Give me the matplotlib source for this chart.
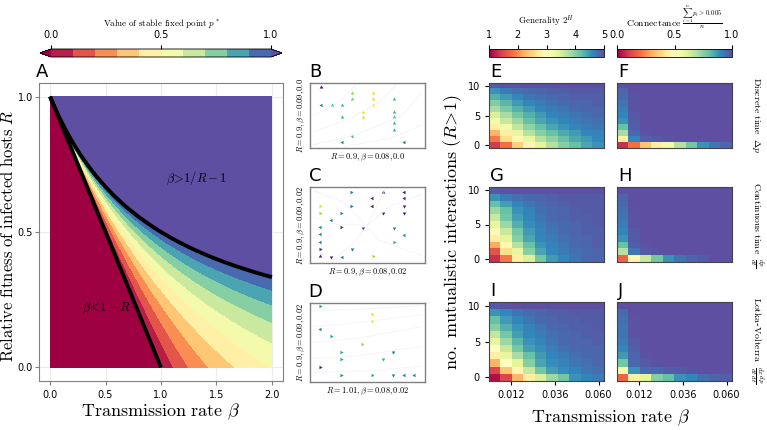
import numpy as np
import matplotlib
matplotlib.use('Agg')
import matplotlib.pyplot as plt

plt.rcParams['mathtext.fontset'] = 'cm'
plt.rcParams['font.family'] = 'DejaVu Sans'

# ---------------- datos ----------------
# Panel A: niveles del punto fijo estable p*
niveles_p = [0.0, 0.1, 0.2, 0.3, 0.4, 0.5, 0.6, 0.7, 0.8, 0.9, 1.0]
beta_lim = [0.0, 2.0]
R_lim = [0.0, 1.0]

# Paneles B-D: flechas (x, y en fraccion del eje, angulo, color viridis)
B_x = [.096, .368, .551, .368, .551, .733, .096, .188, .281, .551, .458, .733, .275, .458, .733, .733, .733, .368, .275, .820]
B_y = [.94, .84, .84, .75, .75, .75, .66, .66, .66, .66, .56, .56, .47, .47, .47, .38, .28, .19, .09, .09]
B_ang = [120, 0, 0, 0, 0, 0, 90, 0, 0, 0, 0, 0, 0, 0, 0, 0, 0, 90, 90, 90]
B_col = [.05, .85, .97, .8, .97, .7, .45, .6, .7, .97, .95, .7, .7, .95, .7, .7, .68, .65, .5, .45]

C_x = [.357, .632, .820, .536, .820, .087, .357, .536, .820, .087, .267, .638, .820, .180, .087, .267, .458, .733,
       .087, .820, .087, .733, .087, .368, .087, .180, .275, .551]
C_y = [.94, .94, .94, .855, .855, .75, .75, .75, .75, .66, .66, .66, .66, .56, .47, .47, .465, .465,
       .38, .37, .28, .27, .19, .18, .09, .08, .08, .09]
C_ang = [-90, 0, 90, 90, 90, -90, -90, 90, 180, -90, -90, 180, 180, 90, 90, -90, 180, 180,
         90, 90, 90, -90, -90, 180, 0, 180, 90, -90]
C_col = [.45, .1, .08, .1, .1, .95, .4, .08, .1, .85, .45, .1, .1, .45, .5, .15, .15, .45,
         .5, .55, .45, .65, .15, .4, .1, .1, .45, .85]

D_x = [.087, .542, .542, .087, .180, .449, .267, .725, .267, .632, .087, .267, .542, .725, .820, .907]
D_y = [.96, .865, .77, .675, .58, .48, .38, .38, .285, .285, .19, .09, .09, .09, .09, .09]
D_ang = [-90, 180, 180, 90, -90, -90, -90, 180, -90, 180, -90, -90, -90, 180, 90, 90]
D_col = [.6, .97, .97, .45, .6, .85, .6, .45, .6, .65, .08, .5, .65, .45, .45, .45]

# lineas de flujo tenues (fraccion del eje)
B_lineas = [[(0.03, 0.05), (0.4, 0.2), (0.8, 0.5), (0.97, 0.85)],
            [(0.03, 0.25), (0.35, 0.45), (0.6, 0.7), (0.75, 0.97)],
            [(0.03, 0.5), (0.25, 0.7), (0.4, 0.97)],
            [(0.3, 0.02), (0.7, 0.15), (0.97, 0.35)]]
C_lineas = [[(0.03, 0.95), (0.3, 0.8), (0.45, 0.55), (0.6, 0.3), (0.97, 0.1)],
            [(0.2, 0.03), (0.4, 0.3), (0.5, 0.5), (0.7, 0.75), (0.97, 0.9)],
            [(0.03, 0.6), (0.25, 0.5), (0.45, 0.5)],
            [(0.65, 0.97), (0.55, 0.65), (0.5, 0.5)]]
D_lineas = [[(0.03, 0.9), (0.4, 0.92), (0.97, 0.97)],
            [(0.03, 0.7), (0.4, 0.75), (0.97, 0.85)],
            [(0.03, 0.5), (0.4, 0.55), (0.97, 0.7)],
            [(0.03, 0.3), (0.4, 0.33), (0.97, 0.45)],
            [(0.03, 0.12), (0.5, 0.14), (0.97, 0.2)]]

# Paneles E-J: filas = no. interacciones mutualistas 0..10, columnas = beta
beta_ticks = [0.012, 0.036, 0.060]
y_ticks = [0, 5, 10]

gen_E = [[1.40, 1.80, 2.48, 2.88, 3.40, 3.72, 4.00, 4.20, 4.40, 4.52],
         [1.88, 2.60, 2.92, 3.32, 3.72, 3.96, 4.20, 4.36, 4.48, 4.60],
         [2.28, 2.80, 3.32, 3.72, 4.00, 4.20, 4.36, 4.48, 4.60, 4.64],
         [2.80, 3.20, 3.64, 3.96, 4.20, 4.40, 4.52, 4.60, 4.68, 4.72],
         [3.20, 3.60, 3.88, 4.20, 4.40, 4.52, 4.60, 4.68, 4.72, 4.76],
         [3.48, 3.80, 4.12, 4.32, 4.48, 4.60, 4.68, 4.72, 4.76, 4.80],
         [3.80, 4.08, 4.32, 4.48, 4.60, 4.68, 4.72, 4.80, 4.84, 4.84],
         [4.04, 4.28, 4.48, 4.60, 4.68, 4.76, 4.80, 4.84, 4.84, 4.88],
         [4.32, 4.48, 4.60, 4.72, 4.76, 4.80, 4.84, 4.88, 4.88, 4.88],
         [4.52, 4.68, 4.76, 4.80, 4.84, 4.88, 4.88, 4.92, 4.92, 4.92],
         [4.92, 4.96, 4.96, 5.00, 5.00, 5.00, 5.00, 5.00, 5.00, 5.00]]
gen_G = [[1.32, 1.88, 2.80, 3.48, 4.12, 4.48, 4.60, 4.72, 4.80, 4.84],
         [1.60, 2.60, 3.32, 4.00, 4.40, 4.60, 4.68, 4.76, 4.80, 4.84],
         [2.20, 2.92, 3.72, 4.20, 4.52, 4.64, 4.72, 4.80, 4.84, 4.88],
         [2.80, 3.40, 4.00, 4.40, 4.60, 4.68, 4.76, 4.80, 4.84, 4.88],
         [2.92, 3.60, 4.12, 4.48, 4.64, 4.72, 4.80, 4.84, 4.88, 4.88],
         [3.32, 3.88, 4.32, 4.56, 4.68, 4.76, 4.80, 4.84, 4.88, 4.92],
         [3.60, 4.12, 4.44, 4.60, 4.72, 4.80, 4.84, 4.88, 4.88, 4.92],
         [3.88, 4.20, 4.52, 4.64, 4.76, 4.80, 4.84, 4.88, 4.92, 4.92],
         [4.20, 4.44, 4.60, 4.72, 4.80, 4.84, 4.88, 4.92, 4.92, 4.92],
         [4.52, 4.68, 4.76, 4.80, 4.84, 4.88, 4.92, 4.92, 4.92, 4.92],
         [4.92, 4.96, 5.00, 5.00, 5.00, 5.00, 5.00, 5.00, 5.00, 5.00]]
gen_I = [[1.12, 1.48, 2.28, 2.80, 3.48, 3.88, 4.12, 4.52, 4.60, 4.68],
         [1.48, 2.40, 2.88, 3.60, 4.12, 4.44, 4.56, 4.64, 4.72, 4.76],
         [2.28, 3.00, 3.40, 4.00, 4.40, 4.56, 4.64, 4.72, 4.76, 4.80],
         [2.80, 3.32, 3.80, 4.20, 4.48, 4.60, 4.68, 4.76, 4.80, 4.84],
         [3.00, 3.60, 4.12, 4.44, 4.56, 4.68, 4.76, 4.80, 4.84, 4.84],
         [3.32, 3.88, 4.28, 4.52, 4.64, 4.72, 4.80, 4.84, 4.84, 4.88],
         [3.64, 4.12, 4.44, 4.60, 4.68, 4.76, 4.80, 4.84, 4.88, 4.88],
         [4.00, 4.32, 4.52, 4.64, 4.72, 4.80, 4.84, 4.88, 4.88, 4.92],
         [4.20, 4.48, 4.60, 4.72, 4.80, 4.84, 4.88, 4.88, 4.92, 4.92],
         [4.52, 4.60, 4.72, 4.80, 4.84, 4.88, 4.88, 4.92, 4.92, 4.92],
         [4.92, 4.96, 5.00, 5.00, 5.00, 5.00, 5.00, 5.00, 5.00, 5.00]]

con_F = [[.08, .20, .35, .45, .55, .68, .78, .88, .93, .96],
         [.45, .90, .97, .98, .99, 1, 1, 1, 1, 1],
         [.70, .96, .99, 1, 1, 1, 1, 1, 1, 1],
         [.80, .97, 1, 1, 1, 1, 1, 1, 1, 1],
         [.88, .98, 1, 1, 1, 1, 1, 1, 1, 1],
         [.90, .98, 1, 1, 1, 1, 1, 1, 1, 1],
         [.92, .99, 1, 1, 1, 1, 1, 1, 1, 1],
         [.93, .99, 1, 1, 1, 1, 1, 1, 1, 1],
         [.95, .99, 1, 1, 1, 1, 1, 1, 1, 1],
         [.96, 1, 1, 1, 1, 1, 1, 1, 1, 1],
         [1, 1, 1, 1, 1, 1, 1, 1, 1, 1]]
con_H = [[.18, .48, .65, .78, .88, .93, .96, .98, 1, 1],
         [.68, .93, .98, .99, 1, 1, 1, 1, 1, 1],
         [.80, .97, .99, 1, 1, 1, 1, 1, 1, 1],
         [.88, .98, 1, 1, 1, 1, 1, 1, 1, 1],
         [.90, .98, 1, 1, 1, 1, 1, 1, 1, 1],
         [.92, .99, 1, 1, 1, 1, 1, 1, 1, 1],
         [.93, .99, 1, 1, 1, 1, 1, 1, 1, 1],
         [.94, .99, 1, 1, 1, 1, 1, 1, 1, 1],
         [.95, 1, 1, 1, 1, 1, 1, 1, 1, 1],
         [.96, 1, 1, 1, 1, 1, 1, 1, 1, 1],
         [1, 1, 1, 1, 1, 1, 1, 1, 1, 1]]
con_J = [[.18, .45, .60, .75, .80, .88, .90, .94, .96, .97],
         [.55, .88, .95, .95, .97, .98, .99, 1, 1, 1],
         [.78, .95, .98, .99, 1, 1, 1, 1, 1, 1],
         [.87, .96, .99, 1, 1, 1, 1, 1, 1, 1],
         [.90, .97, 1, 1, 1, 1, 1, 1, 1, 1],
         [.92, .98, 1, 1, 1, 1, 1, 1, 1, 1],
         [.93, .99, 1, 1, 1, 1, 1, 1, 1, 1],
         [.93, .99, 1, 1, 1, 1, 1, 1, 1, 1],
         [.94, .99, 1, 1, 1, 1, 1, 1, 1, 1],
         [.95, 1, 1, 1, 1, 1, 1, 1, 1, 1],
         [1, 1, 1, 1, 1, 1, 1, 1, 1, 1]]

W, H = 767, 430
fig = plt.figure(figsize=(W / 100, H / 100), dpi=100)


def rect(l, t, r, b):
    return [l / W, 1 - b / H, (r - l) / W, (b - t) / H]


def texto(x, y, s, **kw):
    fig.text(x / W, 1 - y / H, s, **kw)


gris = '#808080'

# ---------------- Panel A ----------------
axA = fig.add_axes(rect(39, 83, 283, 381))
bb, rr = np.meshgrid(np.linspace(beta_lim[0], beta_lim[1], 500), np.linspace(R_lim[0], R_lim[1], 500))
with np.errstate(divide='ignore', invalid='ignore'):
    P = (bb - 1 + rr) / (bb * (1 - rr))
P = np.nan_to_num(P, nan=2.0, posinf=2.0, neginf=-1.0)
cs = axA.contourf(bb, rr, P, levels=niveles_p, cmap='Spectral', extend='both')
bl = np.linspace(0, 1, 50)
axA.plot(bl, 1 - bl, color='k', lw=2.8, solid_capstyle='butt')
bc = np.linspace(0, 2, 200)
axA.plot(bc, 1 / (1 + bc), color='k', lw=2.8, solid_capstyle='butt')
axA.set_xlim(-0.1, 2.1)
axA.set_ylim(-0.05, 1.05)
axA.set_xticks([0.0, 0.5, 1.0, 1.5, 2.0])
axA.set_yticks([0.0, 0.5, 1.0])
axA.grid(color='#ebebeb', lw=0.8)
axA.set_axisbelow(True)
axA.tick_params(labelsize=7, length=3, color=gris)
axA.tick_params(axis='y', pad=1.5)
for s in axA.spines.values():
    s.set_color(gris)
axA.text(1.32, 0.70, r'$\beta\!>\!1/R-1$', fontsize=9, ha='center', va='center')
axA.text(0.51, 0.22, r'$\beta\!<\!1-R$', fontsize=9, ha='center', va='center')

caxA = fig.add_axes(rect(40, 49, 282, 57))
cbA = fig.colorbar(cs, cax=caxA, orientation='horizontal', ticks=[0.0, 0.5, 1.0])
caxA.xaxis.set_ticks_position('top')
caxA.tick_params(labelsize=7, length=3)
cbA.outline.set_linewidth(0.6)
texto(161, 23, r'$\mathrm{Value\ of\ stable\ fixed\ point}\ p^*$', fontsize=6.5, ha='center', va='center')

texto(42, 72, 'A', fontsize=13, ha='center', va='center')
texto(161, 412, r'$\mathrm{Transmission\ rate}\ \beta$', fontsize=13, ha='center', va='center')
texto(8, 236, r'$\mathrm{Relative\ fitness\ of\ infected\ hosts}\ R$', fontsize=12,
      ha='center', va='center', rotation=90)

# ---------------- Paneles B-D ----------------
fases = [
    ('B', (310, 83, 425, 148), B_x, B_y, B_ang, B_col, B_lineas,
     r'$R=0.9, \beta=0.09, 0.0$', r'$R=0.9, \beta=0.08, 0.0$'),
    ('C', (310, 187, 425, 263), C_x, C_y, C_ang, C_col, C_lineas,
     r'$R=0.9, \beta=0.09, 0.02$', r'$R=0.9, \beta=0.08, 0.02$'),
    ('D', (310, 303, 425, 382), D_x, D_y, D_ang, D_col, D_lineas,
     r'$R=0.9, \beta=0.09, 0.02$', r'$R=1.01, \beta=0.08, 0.02$'),
]
vir = plt.get_cmap('viridis')
for letra, (l, t, r, b), xs, ys, angs, cols, lineas, ylab, xlab in fases:
    ax = fig.add_axes(rect(l, t, r, b))
    for ln in lineas:
        ax.plot([p[0] for p in ln], [p[1] for p in ln], color='#eef2f6', lw=0.5)
    for x, y, a, c in zip(xs, ys, angs, cols):
        ax.scatter(x, y, marker=(3, 0, a), s=9, color=vir(c), linewidths=0)
    ax.set_xlim(0, 1)
    ax.set_ylim(0, 1)
    ax.set_xticks([])
    ax.set_yticks([])
    for s in ax.spines.values():
        s.set_color(gris)
        s.set_linewidth(1.0)
    ax.set_ylabel(ylab, fontsize=6, labelpad=2)
    ax.set_xlabel(xlab, fontsize=6, labelpad=3)
    texto(l + 5, t - 11, letra, fontsize=13, ha='center', va='center')

# ---------------- Paneles E-J ----------------
mapas = [
    ('E', (489, 83, 604, 148), gen_E, 1, 5, True, False),
    ('F', (617, 83, 732, 148), con_F, 0, 1, False, False),
    ('G', (489, 187, 604, 262), gen_G, 1, 5, True, False),
    ('H', (617, 187, 732, 262), con_H, 0, 1, False, False),
    ('I', (489, 302, 604, 381), gen_I, 1, 5, True, True),
    ('J', (617, 302, 732, 381), con_J, 0, 1, False, True),
]
ims = {}
for letra, (l, t, r, b), datos, vmin, vmax, con_y, con_x in mapas:
    ax = fig.add_axes(rect(l, t, r, b))
    ims[letra] = ax.imshow(np.array(datos), origin='lower', cmap='Spectral', vmin=vmin, vmax=vmax,
                           extent=[0, 0.063, -0.5, 10.5], aspect='auto', interpolation='nearest')
    if con_y:
        ax.set_yticks(y_ticks)
    else:
        ax.set_yticks([])
    if con_x:
        ax.set_xticks(beta_ticks)
        ax.set_xticklabels(['0.012', '0.036', '0.060'])
    else:
        ax.set_xticks([])
    ax.tick_params(labelsize=7, length=3)
    for s in ax.spines.values():
        s.set_color('#444444')
        s.set_linewidth(0.8)
    texto(l + 1, t - 11, letra, fontsize=13, ha='left', va='center')

caxE = fig.add_axes(rect(489, 49, 604, 57))
cbE = fig.colorbar(ims['E'], cax=caxE, orientation='horizontal', ticks=[1, 2, 3, 4, 5])
caxE.xaxis.set_ticks_position('top')
caxE.tick_params(labelsize=7, length=3)
cbE.outline.set_linewidth(0.6)
texto(546, 21, r'$\mathrm{Generality}\ 2^H$', fontsize=6.5, ha='center', va='center')

caxF = fig.add_axes(rect(617, 49, 732, 57))
cbF = fig.colorbar(ims['F'], cax=caxF, orientation='horizontal', ticks=[0.0, 0.5, 1.0])
caxF.xaxis.set_ticks_position('top')
caxF.tick_params(labelsize=7, length=3)
cbF.outline.set_linewidth(0.6)
texto(674, 17, r'$\mathrm{Connectance}\ \frac{\sum_{i=1}^{n} p_i > 0.005}{n}$', fontsize=7,
      ha='center', va='center')

texto(756, 115, r'$\mathrm{Discrete\ time}\ \ \Delta p$', fontsize=7, ha='center', va='center', rotation=-90)
texto(756, 225, r'$\mathrm{Continuous\ time}\ \ \frac{dp}{dt}$', fontsize=7, ha='center', va='center', rotation=-90)
texto(756, 340, r'$\mathrm{Lotka}$-$\mathrm{Volterra}\ \ \frac{dx}{dt}\frac{dp}{dt}$', fontsize=7,
      ha='center', va='center', rotation=-90)

texto(453, 232, r'$\mathrm{no.\ mutualistic\ interactions}\ (R\!>\!1)$', fontsize=13,
      ha='center', va='center', rotation=90)
texto(611, 418, r'$\mathrm{Transmission\ rate}\ \beta$', fontsize=13, ha='center', va='center')

plt.savefig('out.png', dpi=100)
